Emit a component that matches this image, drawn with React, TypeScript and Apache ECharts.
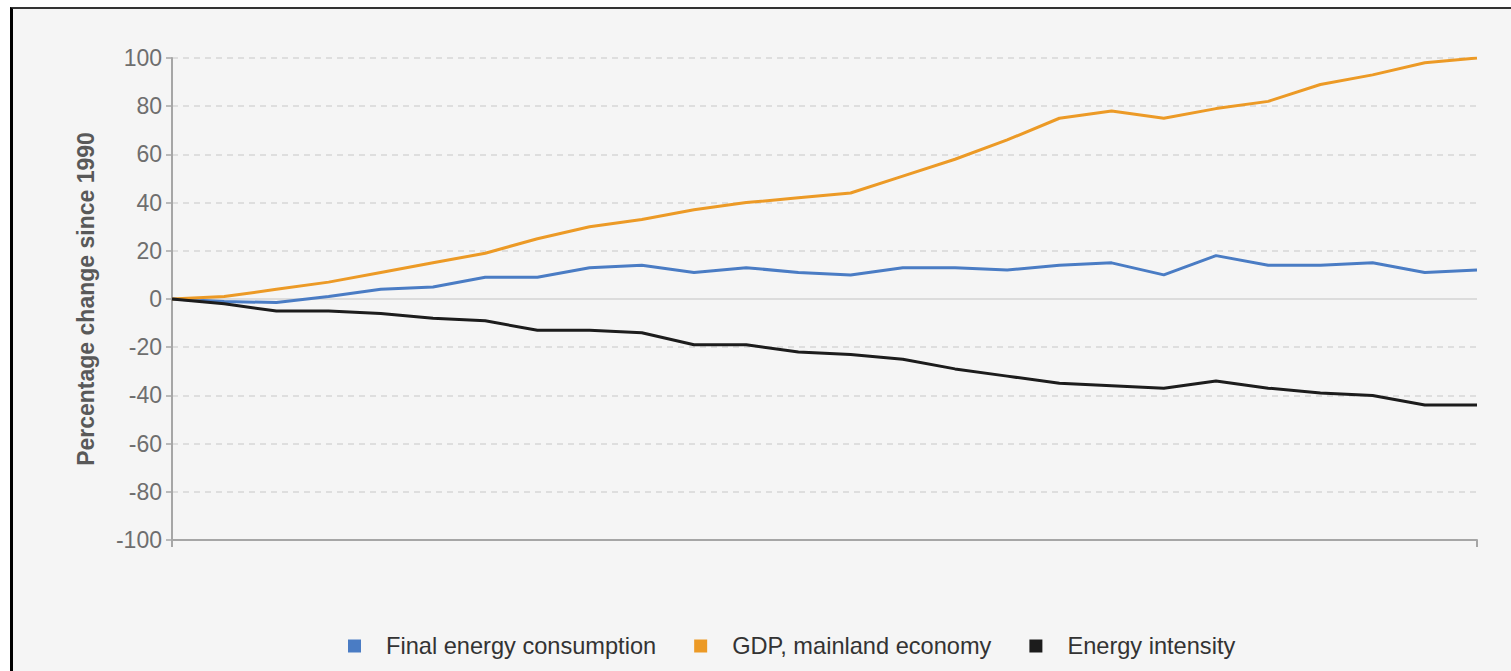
import React, { useEffect, useRef } from "react";
import * as echarts from "echarts";

const years: string[] = [
  "1990", "1991", "1992", "1993", "1994", "1995", "1996", "1997", "1998", "1999",
  "2000", "2001", "2002", "2003", "2004", "2005", "2006", "2007", "2008", "2009",
  "2010", "2011", "2012", "2013", "2014", "2015",
];

const finalEnergy: number[] = [
  0, -1, -1.5, 1, 4, 5, 9, 9, 13, 14, 11, 13, 11, 10, 13, 13, 12, 14, 15, 10, 18, 14, 14, 15, 11, 12,
];

const gdpMainland: number[] = [
  0, 1, 4, 7, 11, 15, 19, 25, 30, 33, 37, 40, 42, 44, 51, 58, 66, 75, 78, 75, 79, 82, 89, 93, 98, 100,
];

const energyIntensity: number[] = [
  0, -2, -5, -5, -6, -8, -9, -13, -13, -14, -19, -19, -22, -23, -25, -29, -32, -35, -36, -37, -34, -37, -39, -40, -44, -44,
];

const yTicks = { min: -100, max: 100, interval: 20 };

const seriesNames = ["Final energy consumption", "GDP, mainland economy", "Energy intensity"];
const seriesColors = ["#4a7cc4", "#ec9a26", "#1c1c1c"];

export default function App() {
  const ref = useRef<HTMLDivElement>(null);

  useEffect(() => {
    if (!ref.current) return;
    const chart = echarts.init(ref.current, undefined, { renderer: "svg" });
    const lastIdx = years.length - 1;
    const dataSets = [finalEnergy, gdpMainland, energyIntensity];
    chart.setOption({
      animation: false,
      backgroundColor: "transparent",
      textStyle: { fontFamily: "Liberation Sans, Arial, sans-serif" },
      grid: { left: 172, right: 34, top: 58, bottom: 131 },
      legend: {
        left: 343,
        top: 629,
        itemWidth: 53,
        itemHeight: 13,
        itemGap: 38,
        icon: "path://M0,0h10v10h-10z",
        symbolKeepAspect: true,
        textStyle: { fontSize: 23.6, color: "#333333", fontFamily: "Liberation Sans, Arial, sans-serif" },
        data: seriesNames,
      },
      xAxis: {
        type: "category",
        data: years,
        boundaryGap: false,
        axisLine: { show: true, onZero: false, lineStyle: { color: "#a6a6a6", width: 2 } },
        axisTick: {
          show: true,
          length: 7,
          interval: (i: number) => i === 0 || i === lastIdx,
          lineStyle: { color: "#a6a6a6", width: 2 },
        },
        axisLabel: { show: false },
        splitLine: { show: false },
      },
      yAxis: {
        type: "value",
        min: yTicks.min,
        max: yTicks.max,
        interval: yTicks.interval,
        name: "Percentage change since 1990",
        nameLocation: "middle",
        nameGap: 75,
        nameTextStyle: {
          fontSize: 23,
          fontWeight: "bold",
          color: "#595959",
          fontFamily: "Liberation Sans, Arial, sans-serif",
        },
        axisLine: { show: true, lineStyle: { color: "#a6a6a6", width: 2 } },
        axisTick: { show: true, length: 6, lineStyle: { color: "#a6a6a6", width: 1.5 } },
        axisLabel: { fontSize: 23, color: "#6e6e6e", margin: 10 },
        splitLine: { show: true, lineStyle: { color: "#d6d6d6", type: [6, 5], width: 1.5 } },
      },
      series: seriesNames.map((name, k) => ({
        name,
        type: "line",
        data: dataSets[k],
        symbol: "none",
        showSymbol: false,
        lineStyle: { width: 3, color: seriesColors[k] },
        itemStyle: { color: seriesColors[k] },
        z: k === 2 ? 3 : 2,
        markLine:
          k === 0
            ? {
                silent: true,
                symbol: "none",
                label: { show: false },
                lineStyle: { color: "#dcdcdc", type: "solid", width: 2 },
                data: [{ yAxis: 0 }],
                z: 1,
              }
            : undefined,
      })),
    });
    return () => chart.dispose();
  }, []);

  return (
    <div style={{ position: "fixed", left: 0, top: 0, width: 1511, height: 671, background: "#ffffff", overflow: "hidden" }}>
      <div
        style={{
          position: "absolute",
          left: 10,
          top: 7,
          width: 1520,
          height: 680,
          background: "#f5f5f5",
          borderLeft: "3px solid #000000",
          borderTop: "2px solid #333333",
        }}
      />
      <div ref={ref} style={{ position: "absolute", left: 0, top: 0, width: 1511, height: 671 }} />
    </div>
  );
}
